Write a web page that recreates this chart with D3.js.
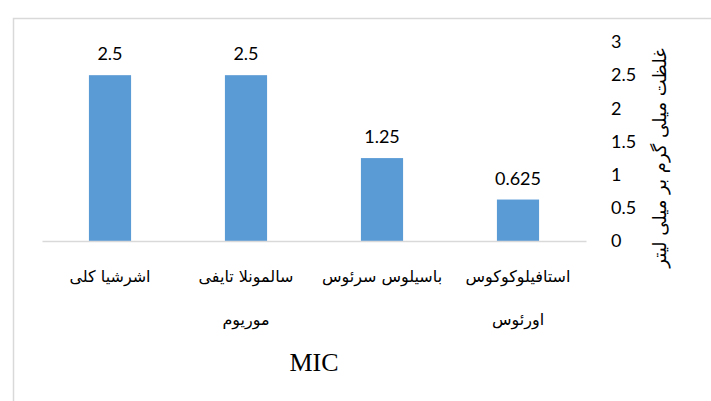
<!DOCTYPE html>
<html>
<head>
<meta charset="utf-8">
<script src="https://cdn.jsdelivr.net/npm/d3@7"></script>
<style>
  html, body { margin: 0; padding: 0; background: #ffffff; }
</style>
</head>
<body>
<div id="chart"></div>
<script>
const categories = [
  ["اشرشیا کلی"],
  ["سالمونلا تایفی", "موریوم"],
  ["باسیلوس سرئوس"],
  ["استافیلوکوکوس", "اورئوس"]
];
const values = [2.5, 2.5, 1.25, 0.625];
const valueLabels = ["2.5", "2.5", "1.25", "0.625"];
const yTicks = [0, 0.5, 1, 1.5, 2, 2.5, 3];
const yTitle = "غلظت میلی گرم بر میلی لیتر";
const xTitle = "MIC";

const width = 711;
const height = 401;
const plot = { left: 42, right: 586, top: 42, bottom: 241 };
const barColor = "#5b9bd5";
const numFont = "Lato, 'Open Sans', sans-serif";
const faFont = "'DejaVu Sans', sans-serif";

const svg = d3.select("#chart")
  .append("svg")
  .attr("width", width)
  .attr("height", height)
  .attr("viewBox", `0 0 ${width} ${height}`);

// background + frame
svg.append("rect")
  .attr("x", 0).attr("y", 0)
  .attr("width", width).attr("height", height)
  .attr("fill", "#ffffff");
svg.append("rect")
  .attr("x", 13.5).attr("y", 18.5)
  .attr("width", width + 10).attr("height", height + 10)
  .attr("fill", "none")
  .attr("stroke", "#d9d9d9")
  .attr("stroke-width", 1.5);

const x = d3.scaleBand()
  .domain(d3.range(categories.length))
  .range([plot.left, plot.right])
  .paddingInner(0.69)
  .paddingOuter(0.345);

const y = d3.scaleLinear()
  .domain([0, 3])
  .range([plot.bottom, plot.top]);

// bars
svg.append("g")
  .selectAll("rect")
  .data(values)
  .join("rect")
  .attr("x", (d, i) => x(i))
  .attr("y", d => y(d))
  .attr("width", x.bandwidth())
  .attr("height", d => y(0) - y(d))
  .attr("fill", barColor);

// value labels
svg.append("g")
  .selectAll("text")
  .data(values)
  .join("text")
  .attr("x", (d, i) => x(i) + x.bandwidth() / 2)
  .attr("y", d => y(d) - 15)
  .attr("text-anchor", "middle")
  .style("font-family", numFont)
  .style("font-size", "18px")
  .attr("fill", "#000000")
  .text((d, i) => valueLabels[i]);

// x axis line
const xAxis = svg.append("g")
  .attr("transform", `translate(0,${plot.bottom})`)
  .call(d3.axisBottom(x).tickSize(0).tickSizeOuter(0).tickFormat(""));
xAxis.select(".domain")
  .attr("stroke", "#d9d9d9")
  .attr("stroke-width", 1.5);

// category labels
const catG = svg.append("g");
categories.forEach((lines, i) => {
  const t = catG.append("text")
    .attr("x", x(i) + x.bandwidth() / 2)
    .attr("y", plot.bottom + 41)
    .attr("text-anchor", "middle")
    .attr("direction", "rtl")
    .style("font-family", faFont)
    .style("font-size", "16px")
    .attr("fill", "#000000");
  lines.forEach((line, j) => {
    t.append("tspan")
      .attr("x", x(i) + x.bandwidth() / 2)
      .attr("dy", j === 0 ? 0 : 43)
      .text(line);
  });
});

// y axis on the right
const yAxis = svg.append("g")
  .attr("transform", `translate(${plot.right + 19},0)`)
  .call(d3.axisRight(y).tickValues(yTicks).tickSize(0).tickPadding(6)
    .tickFormat(d3.format("")));
yAxis.select(".domain").remove();
yAxis.selectAll("text")
  .style("font-family", numFont)
  .style("font-size", "18px")
  .attr("fill", "#000000");

// y axis title
svg.append("text")
  .attr("transform", `translate(660,158) rotate(-90)`)
  .attr("text-anchor", "middle")
  .attr("direction", "rtl")
  .attr("dy", "0.35em")
  .style("font-family", faFont)
  .style("font-size", "18px")
  .attr("fill", "#000000")
  .text(yTitle);

// x axis title
svg.append("text")
  .attr("x", 314)
  .attr("y", 371)
  .attr("text-anchor", "middle")
  .style("font-family", "'Liberation Serif', 'Times New Roman', serif")
  .style("font-size", "26px")
  .attr("fill", "#000000")
  .text(xTitle);
</script>
</body>
</html>
